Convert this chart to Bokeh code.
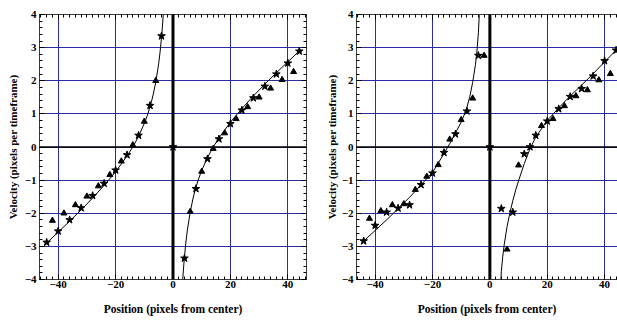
from bokeh.plotting import figure
from bokeh.layouts import row
from bokeh.models import LinearAxis, SingleIntervalTicker, Span, Range1d, CustomJSTickFormatter
from bokeh.embed import file_html
from bokeh.resources import INLINE

# ---------------- data ----------------
# Left panel
L_star_x = [-44, -40, -36, -32, -28, -24, -20, -16, -12, -8, -4, 0, 4, 8, 12, 16, 20, 24, 28, 32, 36, 40, 44]
L_star_y = [-2.88, -2.54, -2.20, -1.84, -1.47, -1.10, -0.70, -0.24, 0.35, 1.25, 3.35, 0.0,
            -3.36, -1.26, -0.36, 0.24, 0.70, 1.11, 1.48, 1.83, 2.20, 2.53, 2.89]
L_tri_x = [-42, -38, -34, -30, -26, -22, -18, -14, -10, -6, 6, 10, 14, 18, 22, 26, 30, 34, 38, 42]
L_tri_y = [-2.22, -2.00, -1.75, -1.49, -1.18, -0.84, -0.43, 0.06, 0.77, 2.00,
           -1.95, -0.74, -0.05, 0.42, 0.85, 1.21, 1.50, 1.77, 2.03, 2.27]
L_fitA_x = [-44, -40, -36, -32, -28, -24, -20, -16, -14, -12, -10, -9, -8, -7, -6, -5, -4.5, -4, -3.7, -3.4]
L_fitA_y = [-2.90, -2.57, -2.24, -1.90, -1.54, -1.16, -0.75, -0.27, 0.0, 0.32, 0.71, 0.94, 1.21, 1.54,
            1.96, 2.51, 2.87, 3.31, 3.62, 3.99]
L_fitB_x = [3.4, 3.7, 4, 4.5, 5, 6, 7, 8, 9, 10, 12, 14, 16, 20, 24, 28, 32, 36, 40, 44]
L_fitB_y = [-3.99, -3.62, -3.31, -2.87, -2.51, -1.96, -1.54, -1.21, -0.94, -0.71, -0.32, 0.0, 0.27,
            0.75, 1.16, 1.54, 1.90, 2.24, 2.57, 2.90]

# Right panel
R_star_x = [-44, -40, -36, -32, -28, -24, -20, -16, -12, -8, -4, 0, 4, 8, 12, 14, 16, 20, 24, 28, 32, 36, 40, 44]
R_star_y = [-2.84, -2.37, -1.97, -1.85, -1.75, -1.14, -0.79, -0.17, 0.39, 1.08, 2.76, 0.0,
            -1.86, -1.97, -0.21, 0.0, 0.35, 0.78, 1.15, 1.52, 1.76, 2.14, 2.60, 2.92]
R_tri_x = [-42, -38, -34, -30, -26, -22, -18, -14, -10, -6, -2, 6, 10, 18, 22, 26, 30, 34, 38, 42]
R_tri_y = [-2.16, -1.93, -1.75, -1.72, -1.29, -0.89, -0.54, 0.23, 0.82, 1.47, 2.76,
           -3.09, -0.55, 0.64, 0.85, 1.24, 1.54, 1.72, 2.02, 2.21]
R_fitA_x = [-44, -40, -36, -32, -28, -24, -20, -16, -14, -12, -10, -9, -8, -7, -6, -5, -4.5, -4, -3.7]
R_fitA_y = [-2.84, -2.52, -2.20, -1.86, -1.52, -1.14, -0.77, -0.20, 0.10, 0.42, 0.75, 0.96, 1.20,
            1.52, 1.95, 2.50, 2.90, 3.45, 3.98]
R_fitB_x = [3.85, 4, 4.5, 5, 6, 7, 8, 9, 10, 12, 14, 16, 20, 24, 28, 32, 36, 40, 44]
R_fitB_y = [-4.0, -3.75, -3.30, -2.95, -2.40, -1.98, -1.62, -1.30, -1.02, -0.50, -0.05, 0.30, 0.80,
            1.18, 1.54, 1.87, 2.21, 2.57, 2.92]

X_LABEL = "Position (pixels from center)"
Y_LABEL = "Velocity (pixels per timeframe)"

FONT = "Liberation Serif"
GRID = "#2a2aa2"
FRAME = "#3a3a3a"


def style_axis(ax, labels=True):
    ax.major_tick_in = 5
    ax.major_tick_out = 0
    ax.minor_tick_in = 3
    ax.minor_tick_out = 0
    ax.major_tick_line_color = "black"
    ax.minor_tick_line_color = "black"
    ax.axis_line_color = FRAME
    ax.axis_line_width = 1
    if labels:
        ax.major_label_text_font = FONT
        ax.major_label_text_font_style = "bold"
        ax.major_label_text_font_size = "11px"
        ax.major_label_text_color = "black"
        ax.axis_label_text_font = FONT
        ax.axis_label_text_font_style = "bold"
        ax.axis_label_text_color = "black"
    else:
        ax.formatter = CustomJSTickFormatter(code="return ''")
        ax.major_label_standoff = 0


def make_panel(width, xmax, mbl, mbr, framed, ylab_standoff, sx, sy, tx, ty, fax, fay, fbx, fby):
    p = figure(width=width, height=320,
               x_range=Range1d(-46.5, xmax), y_range=Range1d(-4, 4),
               output_backend="svg", toolbar_location=None,
               min_border_left=mbl, min_border_right=mbr,
               min_border_top=14, min_border_bottom=41,
               background_fill_color="white", border_fill_color="white")
    p.outline_line_color = FRAME if framed else None

    p.xaxis.ticker = SingleIntervalTicker(interval=20, num_minor_ticks=10)
    p.yaxis.ticker = SingleIntervalTicker(interval=1, num_minor_ticks=5)
    for ax in p.xaxis:
        style_axis(ax)
        ax.axis_label = X_LABEL
        ax.axis_label_text_font_size = "11.5px"
        ax.major_label_standoff = 1
        ax.axis_label_standoff = 12
    for ax in p.yaxis:
        style_axis(ax)
        ax.axis_label = Y_LABEL
        ax.axis_label_text_font_size = "11px"
        ax.major_label_standoff = 3
        ax.axis_label_standoff = ylab_standoff

    top = LinearAxis(ticker=SingleIntervalTicker(interval=20, num_minor_ticks=10))
    style_axis(top, labels=False)
    p.add_layout(top, "above")
    if framed:
        rgt = LinearAxis(ticker=SingleIntervalTicker(interval=1, num_minor_ticks=5))
        style_axis(rgt, labels=False)
        p.add_layout(rgt, "right")

    p.xgrid.grid_line_color = GRID
    p.ygrid.grid_line_color = GRID
    p.xgrid.grid_line_width = 1
    p.ygrid.grid_line_width = 1

    p.add_layout(Span(location=0, dimension="height", line_color="black", line_width=3))
    p.add_layout(Span(location=0, dimension="width", line_color="black", line_width=1.7))

    p.line(fax, fay, line_color="black", line_width=1)
    p.line(fbx, fby, line_color="black", line_width=1)
    p.scatter(tx, ty, marker="triangle", size=6, fill_color="black", line_color="black")
    p.scatter(sx, sy, marker="star", size=8, fill_color="black", line_color="black")
    return p


p1 = make_panel(316, 46.5, 39, 10, True, 3, L_star_x, L_star_y, L_tri_x, L_tri_y,
                L_fitA_x, L_fitA_y, L_fitB_x, L_fitB_y)
p2 = make_panel(301, 44.5, 40, 0, False, 1, R_star_x, R_star_y, R_tri_x, R_tri_y,
                R_fitA_x, R_fitA_y, R_fitB_x, R_fitB_y)

layout = row(p1, p2, spacing=0)
open("out.html", "w").write(file_html(layout, INLINE))
